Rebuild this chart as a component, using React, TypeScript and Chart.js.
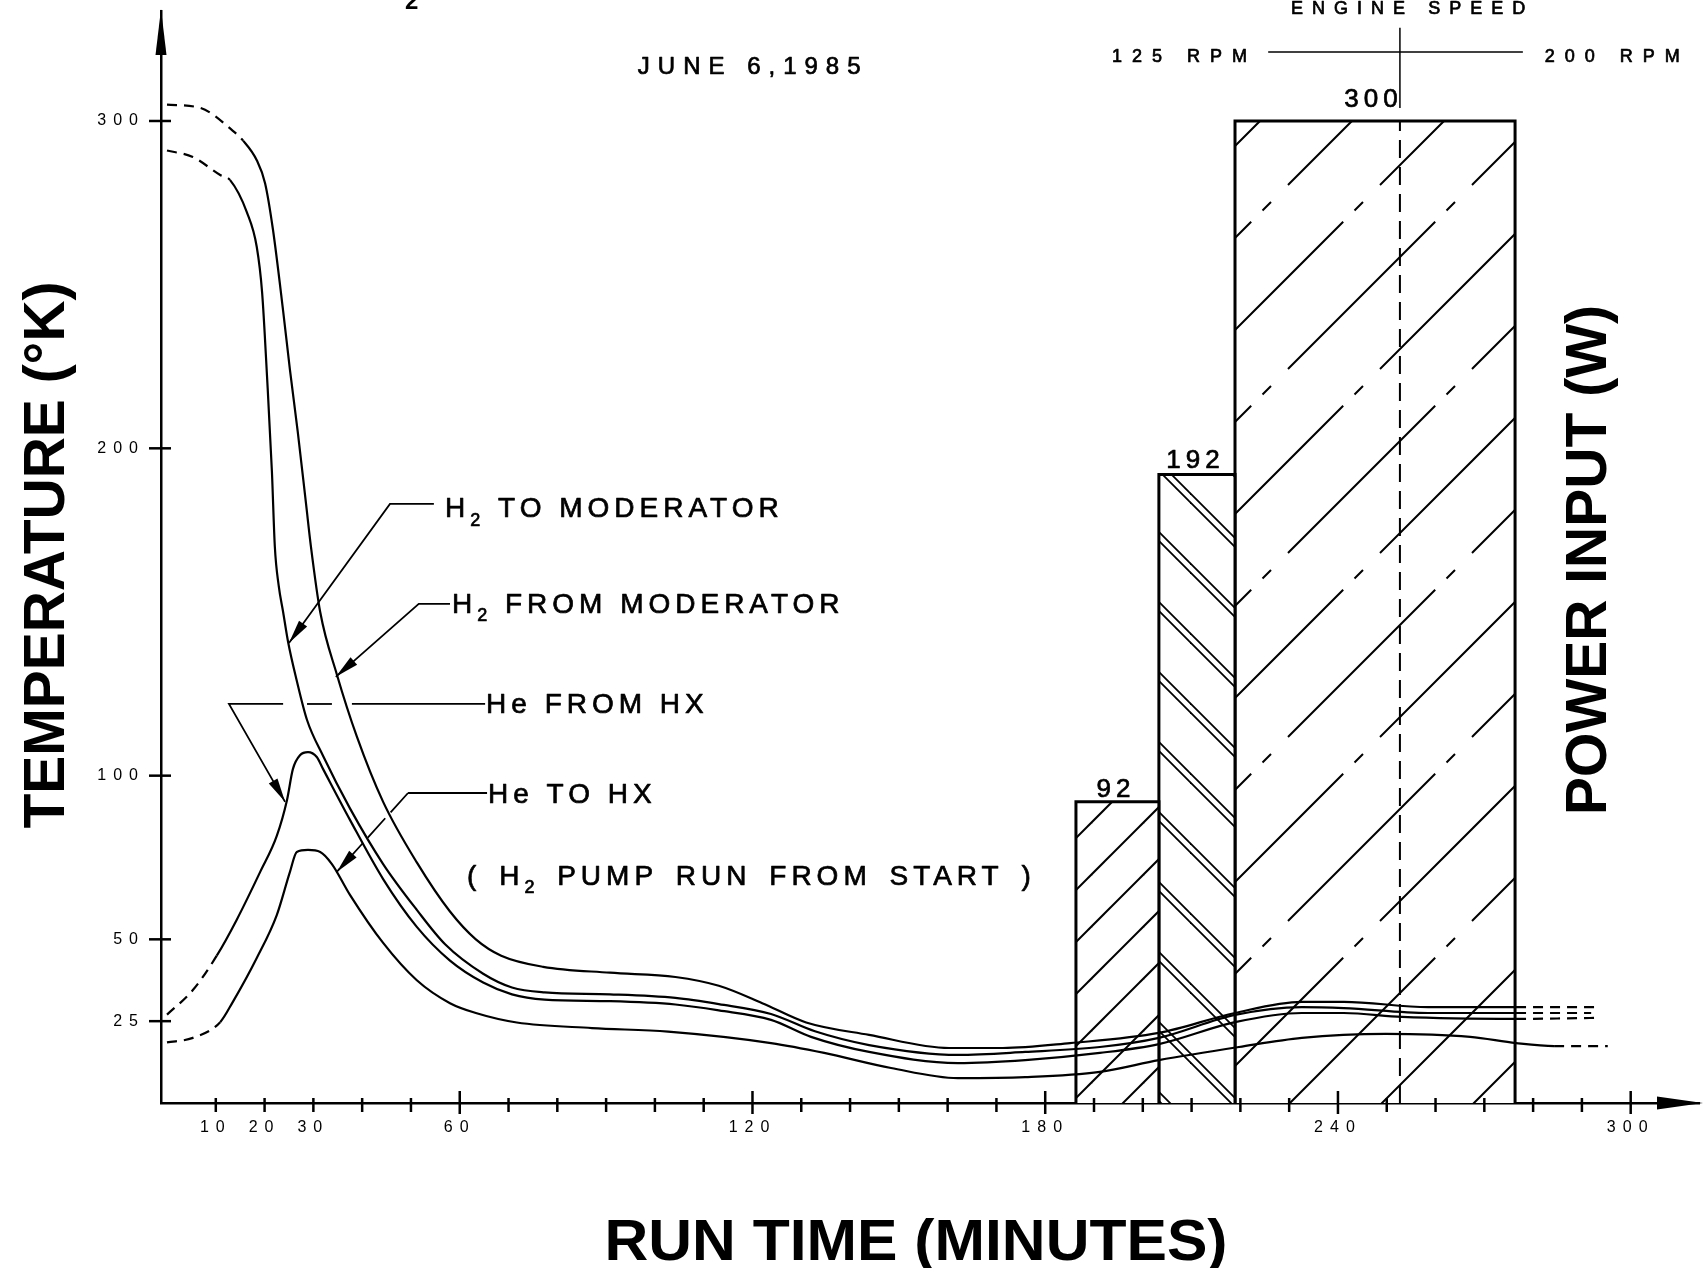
import { useEffect, useRef } from 'react';
import { Chart, registerables } from 'chart.js';
Chart.register(...registerables);

// ---------------- data ----------------
const xTickValues = [10, 20, 30, 40, 50, 60, 70, 80, 90, 100, 110, 120, 130, 140, 150, 160, 170, 180, 190, 200, 210, 220, 230, 240, 250, 260, 270, 280, 290, 300];
const xTickLabels = [10, 20, 30, 60, 120, 180, 240, 300];
const yTickValues = [25, 50, 100, 200, 300];

// H2 FROM MODERATOR
const h2FromMin = [0, 6.8, 13.5, 15.6, 18.4, 20.1, 21.7, 23.8, 25.2, 26.8, 28.5, 29.5, 31.4, 34.8, 38.9, 44.3, 51.2, 58.0, 63.3, 68.5, 77.1, 90.8, 104.2, 113.1, 122.0, 131.0, 143.9, 160.3, 171.3, 185.1, 203.3, 218.9, 232.6, 241.2, 258.5, 276.5, 292.9];
const h2FromK = [305, 304, 297, 294, 288, 281, 267, 242, 224, 205, 183, 170, 150, 131, 112, 92, 73.5, 58.5, 50, 45, 41.6, 39.8, 38.5, 35.8, 30.5, 24.6, 20.8, 16.8, 16.8, 18.3, 21.4, 27.5, 30.9, 30.9, 29.3, 29.3, 29.3];
// H2 TO MODERATOR
const h2ToMin = [0, 5.3, 10.9, 12.9, 16.4, 18.4, 19.5, 20.5, 21.5, 22.1, 22.9, 23.8, 24.8, 26.6, 28.7, 32.0, 37.5, 44.3, 51.2, 57.0, 64.8, 70.7, 77.4, 90.8, 104.2, 113.1, 123.8, 132.8, 143.9, 162.1, 175.9, 191.2, 203.3, 218.9, 232.6, 241.2, 258.5, 276.5, 291.9];
const h2ToK = [291, 289, 283.5, 282, 272, 261.5, 247.5, 222, 193, 170, 158, 150, 141, 129, 117, 106, 90, 73, 59, 48.5, 39.5, 35.3, 33.8, 33.2, 32.1, 30.2, 27.2, 21.9, 17.7, 14.7, 15.6, 17.1, 19.9, 26.9, 29.3, 29.0, 27.5, 27.5, 27.5];
// He FROM HX
const heFromMin = [0, 5.3, 10.2, 14.3, 19.1, 22.5, 24.6, 25.8, 27.3, 28.9, 30.7, 32.0, 37.5, 44.3, 51.2, 58.0, 64.8, 70.7, 77.4, 90.8, 104.2, 113.1, 123.8, 132.0, 143.9, 162.1, 175.9, 191.2, 203.3, 218.9, 232.6, 241.2, 253.1, 276.5, 292.9];
const heFromK = [27, 34.5, 45, 56, 70.6, 81.6, 92.6, 102, 106.3, 107.2, 105.7, 102, 86.5, 68.4, 53.8, 43.5, 36.8, 33.2, 31.6, 31.1, 30.1, 28.3, 25.4, 20.2, 15.6, 12.2, 13.1, 15.3, 18.0, 24.7, 27.5, 27.5, 26.3, 25.7, 26.0];
// He TO HX
const heToMin = [0, 5.3, 10.9, 13.5, 18.4, 22.5, 25.2, 26.6, 28.9, 31.4, 33.8, 37.5, 44.3, 51.2, 58.0, 63.3, 71.7, 87.1, 102.7, 123.8, 134.7, 148.4, 162.1, 175.9, 191.2, 203.3, 219.7, 232.6, 249.8, 267.1, 276.5, 284.3, 295.3];
const heToK = [18.5, 19.9, 24.7, 30.9, 44.3, 57.4, 70.6, 76.7, 77.3, 76.7, 73, 63.6, 48.9, 37.5, 30.5, 27.5, 24.6, 22.9, 21.8, 18.3, 15.3, 10.7, 7.6, 7.9, 9.5, 13.1, 17.1, 19.9, 21.1, 20.2, 18.3, 17.4, 17.4];

// extrapolated (dashed) parts: before dashUntil and after dashFrom (minutes)
const dashUntil = [15.6, 12.9, 10.2, 10.9];
const dashFrom = [276.5, 276.5, 276.5, 284.3];
const curveNames = ['H2 FROM MODERATOR', 'H2 TO MODERATOR', 'He FROM HX', 'He TO HX'];

// power input blocks
const powerStartMin = [186.3, 203.3, 218.9];
const powerEndMin = [203.3, 218.9, 276.3];
const powerW = [92, 192, 300];

// engine speed
const engineChangeMin = 252.7;
const rpmLineStartMin = 225.7;
const rpmLineEndMin = 277.9;
const rpmLineLevel = 321.1;
const rpmLabels = ['125 RPM', '200 RPM'];

const FONT = "'Liberation Sans', Arial, Helvetica, sans-serif";

function makeHatch(
  dir: 1 | -1,
  T: number,
  specs: { off: number; dash: number[]; dashOff: number }[],
  lw: number,
  ctx: CanvasRenderingContext2D
) {
  const c = document.createElement('canvas');
  c.width = T;
  c.height = T;
  const g = c.getContext('2d')!;
  g.fillStyle = '#fff';
  g.fillRect(0, 0, T, T);
  g.strokeStyle = '#000';
  g.lineWidth = lw;
  for (const s of specs) {
    g.setLineDash(s.dash);
    g.lineDashOffset = s.dashOff;
    for (let k = -3; k <= 3; k++) {
      const cc = s.off + k * T;
      const x0 = -2 * T;
      const x1 = 3 * T;
      g.beginPath();
      if (dir === 1) {
        g.moveTo(x0, cc - x0);
        g.lineTo(x1, cc - x1);
      } else {
        g.moveTo(x0, x0 + cc);
        g.lineTo(x1, x1 + cc);
      }
      g.stroke();
    }
  }
  return ctx.createPattern(c, 'repeat')!;
}

function drawParts(
  ctx: CanvasRenderingContext2D,
  parts: [string, boolean][],
  x: number,
  baseline: number,
  size: number,
  spacing: number,
  wordSpacing = 0,
  stroke = 0.7
) {
  let cx = x;
  ctx.textAlign = 'left';
  ctx.textBaseline = 'alphabetic';
  ctx.lineWidth = stroke;
  ctx.lineJoin = 'round';
  for (const [t, sub] of parts) {
    const s = sub ? Math.round(size * 0.66) : size;
    ctx.font = `${s}px ${FONT}`;
    (ctx as any).letterSpacing = `${spacing}px`;
    (ctx as any).wordSpacing = `${wordSpacing}px`;
    const yy = baseline + (sub ? size * 0.3 : 0);
    ctx.fillText(t, cx, yy);
    if (stroke > 0) ctx.strokeText(t, cx, yy);
    cx += ctx.measureText(t).width;
  }
  (ctx as any).wordSpacing = '0px';
}

function fitTitle(ctx: CanvasRenderingContext2D, text: string, cx: number, cy: number, len: number, size: number, rot: number) {
  ctx.save();
  (ctx as any).letterSpacing = '0px';
  ctx.font = `bold ${size}px ${FONT}`;
  const w = ctx.measureText(text).width;
  ctx.translate(cx, cy);
  ctx.rotate(rot);
  ctx.scale(len / w, 1);
  ctx.textAlign = 'center';
  ctx.textBaseline = 'alphabetic';
  ctx.fillText(text, 0, (size * 0.73) / 2);
  ctx.restore();
}

const decorPlugin = {
  id: 'decor',
  beforeDraw(chart: any) {
    chart.ctx.letterSpacing = '7px';
  },
  beforeDatasetsDraw(chart: any) {
    chart.ctx.letterSpacing = '0px';
  },
  afterDraw(chart: any) {
    const ctx: CanvasRenderingContext2D = chart.ctx;
    const xs = chart.scales.x;
    const ys = chart.scales.y;
    const a = chart.chartArea;
    const X = (v: number) => xs.getPixelForValue(v);
    const Y = (v: number) => ys.getPixelForValue(v);
    ctx.save();
    (ctx as any).letterSpacing = '0px';
    ctx.strokeStyle = '#000';
    ctx.fillStyle = '#000';
    ctx.setLineDash([]);

    const seg = (x1: number, y1: number, x2: number, y2: number) => {
      ctx.beginPath();
      ctx.moveTo(x1, y1);
      ctx.lineTo(x2, y2);
      ctx.stroke();
    };
    const tri = (tx: number, ty: number, fx: number, fy: number, len: number, hw: number) => {
      const dx = tx - fx;
      const dy = ty - fy;
      const d = Math.hypot(dx, dy);
      const ux = dx / d;
      const uy = dy / d;
      const bx = tx - ux * len;
      const by = ty - uy * len;
      ctx.beginPath();
      ctx.moveTo(tx, ty);
      ctx.lineTo(bx - uy * hw, by + ux * hw);
      ctx.lineTo(bx + uy * hw, by - ux * hw);
      ctx.closePath();
      ctx.fill();
    };

    // tick marks crossing the axes
    ctx.lineWidth = 2.5;
    xTickValues.forEach((v) => {
      const major = v % 60 === 0;
      const px = X(v);
      seg(px, a.bottom - (major ? 12 : 5), px, a.bottom + (major ? 11 : 9));
    });
    yTickValues.forEach((v) => {
      seg(a.left - 12, Y(v), a.left + 10, Y(v));
    });

    // axis arrows
    tri(a.left, a.top - 2, a.left, a.top + 40, 46, 5.5);
    tri(a.right + 4, a.bottom, a.right - 40, a.bottom, 46, 6.5);

    // curve annotations (leaders)
    ctx.lineWidth = 1.8;
    const poly = (pts: number[][]) => {
      ctx.beginPath();
      pts.forEach((p, i) => (i ? ctx.lineTo(X(p[0]), Y(p[1])) : ctx.moveTo(X(p[0]), Y(p[1]))));
      ctx.stroke();
    };
    const arrowEnd = (from: number[], to: number[]) => tri(X(to[0]), Y(to[1]), X(from[0]), Y(from[1]), 24, 5);

    // H2 TO MODERATOR
    poly([[54.7, 183], [45.7, 183], [25.0, 140.5]]);
    arrowEnd([45.7, 183], [25.0, 140.5]);
    // H2 FROM MODERATOR
    poly([[58.0, 152.5], [51.6, 152.5], [34.6, 130.2]]);
    arrowEnd([51.6, 152.5], [34.6, 130.2]);
    // He FROM HX
    poly([[65.2, 121.9], [37.9, 121.9]]);
    poly([[33.8, 121.9], [28.7, 121.9]]);
    poly([[23.8, 121.9], [12.7, 121.9], [24.2, 92.0]]);
    arrowEnd([12.7, 121.9], [24.2, 92.0]);
    // He TO HX
    poly([[65.6, 94.7], [49.4, 94.7]]);
    ctx.setLineDash([26, 8]);
    poly([[49.4, 94.7], [34.8, 70.6]]);
    ctx.setLineDash([]);
    arrowEnd([49.4, 94.7], [34.8, 70.6]);

    const L = 28;
    const capL = L * 0.73;
    const SP = 5;
    drawParts(ctx, [['H', false], ['2', true], [' TO MODERATOR', false]], X(57.0), Y(182.0) + capL / 2, L, SP);
    drawParts(ctx, [['H', false], ['2', true], [' FROM MODERATOR', false]], X(58.4), Y(152.8) + capL / 2, L, SP);
    drawParts(ctx, [['He FROM HX', false]], X(65.4), Y(122.2) + capL / 2, L, SP);
    drawParts(ctx, [['He TO HX', false]], X(65.8), Y(94.7) + capL / 2, L, SP);
    drawParts(ctx, [['( H', false], ['2', true], [' PUMP RUN FROM START )', false]], X(61.5), Y(69.7) + capL / 2, L, SP, 5);

    // bar value labels
    const gaps = [5, 7, 14];
    powerW.forEach((w, i) => {
      ctx.font = `26px ${FONT}`;
      (ctx as any).letterSpacing = '5px';
      const t = String(w);
      const tw = ctx.measureText(t).width - 5;
      const cx = (X(powerStartMin[i]) + X(powerEndMin[i])) / 2 - 4;
      ctx.textAlign = 'left';
      ctx.lineWidth = 0.7;
      ctx.fillText(t, cx - tw / 2, Y(w) - gaps[i]);
      ctx.strokeText(t, cx - tw / 2, Y(w) - gaps[i]);
    });

    // header texts
    drawParts(ctx, [['JUNE 6,1985', false]], X(96.5), Y(314.4), 24, 8);
    drawParts(ctx, [['ENGINE SPEED', false]], X(230.4), Y(332.7), 18, 9);
    drawParts(ctx, [[rpmLabels[0], false]], X(193.7), Y(318.1), 18, 10);
    drawParts(ctx, [[rpmLabels[1], false]], X(282.4), Y(318.1), 18, 10);
    ctx.font = `bold 24px ${FONT}`;
    (ctx as any).letterSpacing = '0px';
    ctx.fillText('2', X(48.8), Y(334.3));

    // axis titles
    fitTitle(ctx, 'TEMPERATURE (°K)', 43, 555, 547, 58, -Math.PI / 2);
    fitTitle(ctx, 'POWER INPUT (W)', 1585, 560, 510, 58, -Math.PI / 2);
    fitTitle(ctx, 'RUN TIME (MINUTES)', 916, 1239, 623, 58, 0);
    ctx.restore();
  },
};

export default function App() {
  const ref = useRef<HTMLCanvasElement>(null);
  useEffect(() => {
    document.documentElement.style.overflow = 'hidden';
    const canvas = ref.current!;
    const ctx = canvas.getContext('2d')!;
    const P = 184 * Math.SQRT2;
    const patterns = [
      makeHatch(1, 52, [{ off: 42, dash: [], dashOff: 0 }], 2, ctx),
      makeHatch(-1, 70, [{ off: 3, dash: [], dashOff: 0 }, { off: 12, dash: [], dashOff: 0 }], 1.8, ctx),
      makeHatch(
        1,
        184,
        [
          { off: 1, dash: [P * 0.8, 16, 12, P * 0.2 - 28], dashOff: 0 },
          { off: 93, dash: [P * 0.8, 16, 12, P * 0.2 - 28], dashOff: P * 0.5 },
        ],
        2,
        ctx
      ),
    ];

    const curves = [
      [h2FromMin, h2FromK],
      [h2ToMin, h2ToK],
      [heFromMin, heFromK],
      [heToMin, heToK],
    ].map(([mins, temps], ci) => ({
      type: 'line' as const,
      label: curveNames[ci],
      data: mins.map((m, i) => ({ x: m, y: temps[i] })),
      borderColor: '#000',
      borderWidth: 2.2,
      pointRadius: 0,
      fill: false,
      cubicInterpolationMode: 'monotone' as const,
      order: 0,
      segment: {
        borderDash: (c: any) =>
          mins[c.p1DataIndex] <= dashUntil[ci] || mins[c.p0DataIndex] >= dashFrom[ci] ? [10, 7] : undefined,
      },
    }));

    const bars = powerW.map((w, i) => ({
      type: 'line' as const,
      label: `POWER ${w} W`,
      data: [
        { x: powerStartMin[i], y: 0 },
        { x: powerStartMin[i], y: w },
        { x: powerEndMin[i], y: w },
        { x: powerEndMin[i], y: 0 },
      ],
      borderColor: '#000',
      borderWidth: 3,
      borderJoinStyle: 'miter' as const,
      pointRadius: 0,
      tension: 0,
      fill: 'origin',
      backgroundColor: patterns[i],
      order: 3,
    }));

    const engine = [
      {
        type: 'line' as const,
        label: 'speed change',
        data: [{ x: engineChangeMin, y: 0 }, { x: engineChangeMin, y: powerW[2] }],
        borderColor: '#000',
        borderWidth: 2,
        borderDash: [18, 9],
        pointRadius: 0,
        fill: false,
        order: 1,
      },
      {
        type: 'line' as const,
        label: 'speed marker',
        data: [{ x: engineChangeMin, y: 304 }, { x: engineChangeMin, y: 328.5 }],
        borderColor: '#000',
        borderWidth: 1.5,
        pointRadius: 0,
        fill: false,
        order: 1,
      },
      {
        type: 'line' as const,
        label: 'rpm line',
        data: [{ x: rpmLineStartMin, y: rpmLineLevel }, { x: rpmLineEndMin, y: rpmLineLevel }],
        borderColor: '#000',
        borderWidth: 1.5,
        pointRadius: 0,
        fill: false,
        order: 1,
      },
    ];

    const chart = new Chart(canvas, {
      type: 'line',
      data: { datasets: [...curves, ...engine, ...bars] as any },
      options: {
        responsive: false,
        animation: false,
        devicePixelRatio: 1,
        events: [],
        layout: { padding: { top: 11, right: 9, left: 0, bottom: 0 } },
        plugins: { legend: { display: false }, tooltip: { enabled: false } },
        scales: {
          x: {
            type: 'linear',
            min: -1.23,
            max: 314,
            afterFit: (s: any) => {
              s.height = 165;
            },
            afterBuildTicks: (s: any) => {
              s.ticks = xTickValues.map((v) => ({ value: v }));
            },
            ticks: {
              autoSkip: false,
              maxRotation: 0,
              padding: 7,
              color: '#000',
              font: { family: FONT, size: 16 },
              callback: (v: any) => (xTickLabels.includes(Number(v)) ? String(v) : ''),
            },
            grid: { display: false },
            border: { display: true, color: '#000', width: 2.5 },
          },
          y: {
            type: 'linear',
            min: 0,
            max: 333.6,
            afterFit: (s: any) => {
              s.width = 161;
            },
            afterBuildTicks: (s: any) => {
              s.ticks = yTickValues.map((v) => ({ value: v }));
            },
            ticks: {
              padding: 0,
              color: '#000',
              font: { family: FONT, size: 16 },
              callback: (v: any) => String(v),
            },
            grid: { display: true, drawOnChartArea: false, drawTicks: true, tickLength: 16, color: 'rgba(0,0,0,0)' },
            border: { display: true, color: '#000', width: 2.5 },
          },
        },
      },
      plugins: [decorPlugin],
    });
    return () => chart.destroy();
  }, []);
  return (
    <div style={{ position: 'absolute', left: 0, top: 0, width: 1708, height: 1268, background: '#fff' }}>
      <canvas ref={ref} width={1708} height={1268} style={{ display: 'block', width: 1708, height: 1268 }} />
    </div>
  );
}
